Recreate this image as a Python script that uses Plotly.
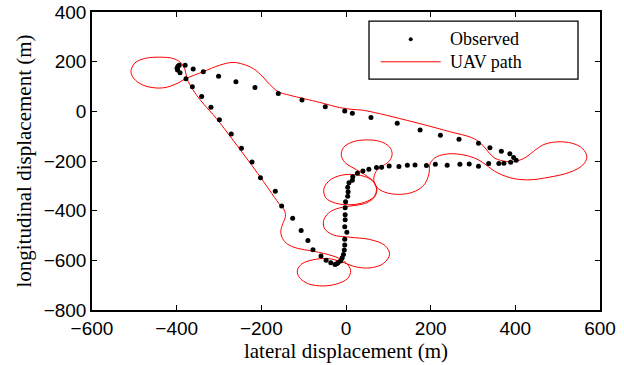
import plotly.graph_objects as go

# Observed positions (m)
obs_x = [-397, -399, -394, -398, -392, -380, -361, -337, -301, -260, -215, -160, -104, -49, -3,
         15, 59, 121, 175, 223, 267, 313, 340, 367, 387, 396, 402, 389, 373, 361, 337, 313, 291,
         269, 239, 211, 190, 163, 145, 125, 102, 84, 72, 54, 40, 27, 16, 15, 7, 4, 5, 4, -1, -2,
         -2, -2, -3, 2, -3, -3, -4, -6, -9, -13, -19, -22, -26, -36, -47, -59, -78, -90, -106,
         -126, -152, -167, -202, -222, -247, -271, -299, -319, -341, -363, -378]
obs_y = [182, 173, 186, 166, 155, 186, 170, 159, 141, 119, 96, 72, 46, 18, 1,
         -8, -25, -48, -75, -96, -112, -129, -147, -161, -171, -186, -197, -205, -209, -210, -210,
         -221, -212, -213, -217, -213, -218, -216, -217, -222, -220, -225, -226, -233, -240, -249,
         -263, -278, -288, -306, -324, -342, -364, -388, -416, -437, -465, -487, -515, -538, -558,
         -577, -590, -603, -610, -614, -617, -610, -600, -583, -557, -520, -480, -431, -381, -322,
         -267, -204, -149, -91, -34, 16, 60, 99, 131]

# UAV path (m)
path_x = [379, 352, 335, 318, 297, 245, 198, 127, 68, 37, 14, -15, -62, -133, -160, -180, -196,
          -219, -244, -267, -298, -338, -377, -397, -421, -448, -480, -501, -508, -499, -475, -440,
          -409, -389, -380, -376, -369, -362, -352, -336, -306, -267, -208, -159, -146, -143, -149,
          -154, -150, -137, -114, -81, -48, -19, 0, 11, 4, -22, -54, -88, -110, -115, -104, -78,
          -43, -10, 14, 37, 63, 89, 103, 92, 56, 9, -31, -51, -52, -36, -8, 25, 49, 67, 73, 66,
          48, 21, -10, -37, -52, -48, -24, 11, 44, 66, 72, 66, 51, 35, 14, -3, -11, -6, 14, 48, 82,
          103, 109, 102, 87, 73, 66, 68, 80, 106, 143, 170, 187, 196, 199, 214, 245, 276, 302, 324,
          351, 387, 429, 481, 529, 559, 569, 559, 533, 500, 470, 446, 425, 401, 379]
path_y = [-202, -189, -161, -128, -106, -82, -60, -29, -5, 5, 8, 15, 36, 65, 79, 108, 138, 172,
          190, 197, 186, 159, 133, 114, 98, 94, 106, 132, 160, 194, 213, 218, 213, 194, 166, 133,
          108, 88, 63, 29, -29, -116, -251, -370, -397, -423, -451, -483, -512, -536, -552, -562,
          -574, -590, -610, -641, -673, -695, -703, -695, -669, -641, -614, -598, -593, -606, -622,
          -630, -629, -612, -576, -540, -516, -507, -497, -471, -435, -403, -386, -378, -368, -346,
          -316, -286, -265, -255, -257, -276, -310, -348, -370, -376, -366, -344, -314, -284, -263,
          -245, -225, -205, -177, -146, -124, -115, -122, -144, -173, -201, -219, -237, -265, -294,
          -316, -332, -332, -316, -290, -251, -209, -183, -171, -175, -187, -207, -241, -267, -276,
          -265, -245, -217, -185, -150, -128, -123, -132, -157, -185, -201, -202]

x_ticks = [-600, -400, -200, 0, 200, 400, 600]
y_ticks = [-800, -600, -400, -200, 0, 200, 400]

fig = go.Figure()
fig.add_trace(go.Scatter(x=path_x, y=path_y, mode="lines", name="UAV path",
                         line=dict(color="#ff0000", width=1, shape="spline", smoothing=1.0),
                         showlegend=False))
fig.add_trace(go.Scatter(x=obs_x, y=obs_y, mode="markers", name="Observed",
                         marker=dict(color="black", size=5), showlegend=False))

# legend drawn manually (box, samples, labels)
fig.add_shape(type="rect", xref="paper", yref="paper", x0=0.5453, x1=0.9567, y0=0.7748, y1=0.9697,
              line=dict(color="black", width=1.3), fillcolor="white", layer="above")
fig.add_shape(type="line", xref="paper", yref="paper", x0=0.5683, x1=0.6864, y0=0.8329, y1=0.8329,
              line=dict(color="#ff0000", width=1), layer="above")
fig.add_shape(type="circle", xref="paper", yref="paper", x0=0.6235, x1=0.6313, y0=0.9015, y1=0.9149,
              line=dict(color="black", width=0), fillcolor="black", layer="above")
for txt, yy in [("Observed", 0.9082), ("UAV path", 0.8329)]:
    fig.add_annotation(text=txt, xref="paper", yref="paper", x=0.7002, y=yy, xanchor="left",
                       yanchor="middle", showarrow=False,
                       font=dict(family="Liberation Serif", size=18, color="black"))

axis_common = dict(showgrid=False, zeroline=False, showline=True, linecolor="black", linewidth=1.5,
                   mirror="ticks", ticks="inside", ticklen=5, tickwidth=1, tickcolor="black",
                   tickfont=dict(family="Liberation Sans", size=19, color="black"))
fig.update_xaxes(range=[-600, 600], tickvals=x_ticks, **axis_common,
                 title=dict(text="lateral displacement (m)", standoff=4,
                            font=dict(family="Liberation Serif", size=21, color="black")))
fig.update_yaxes(range=[-800, 400], tickvals=y_ticks, **axis_common,
                 title=dict(text="longitudinal displacement (m)", standoff=6,
                            font=dict(family="Liberation Serif", size=21, color="black")))
fig.update_layout(width=624, height=365, margin=dict(l=92, r=24, t=12, b=55, autoexpand=False),
                  paper_bgcolor="white", plot_bgcolor="white", showlegend=False)
fig.write_html("out.html")
